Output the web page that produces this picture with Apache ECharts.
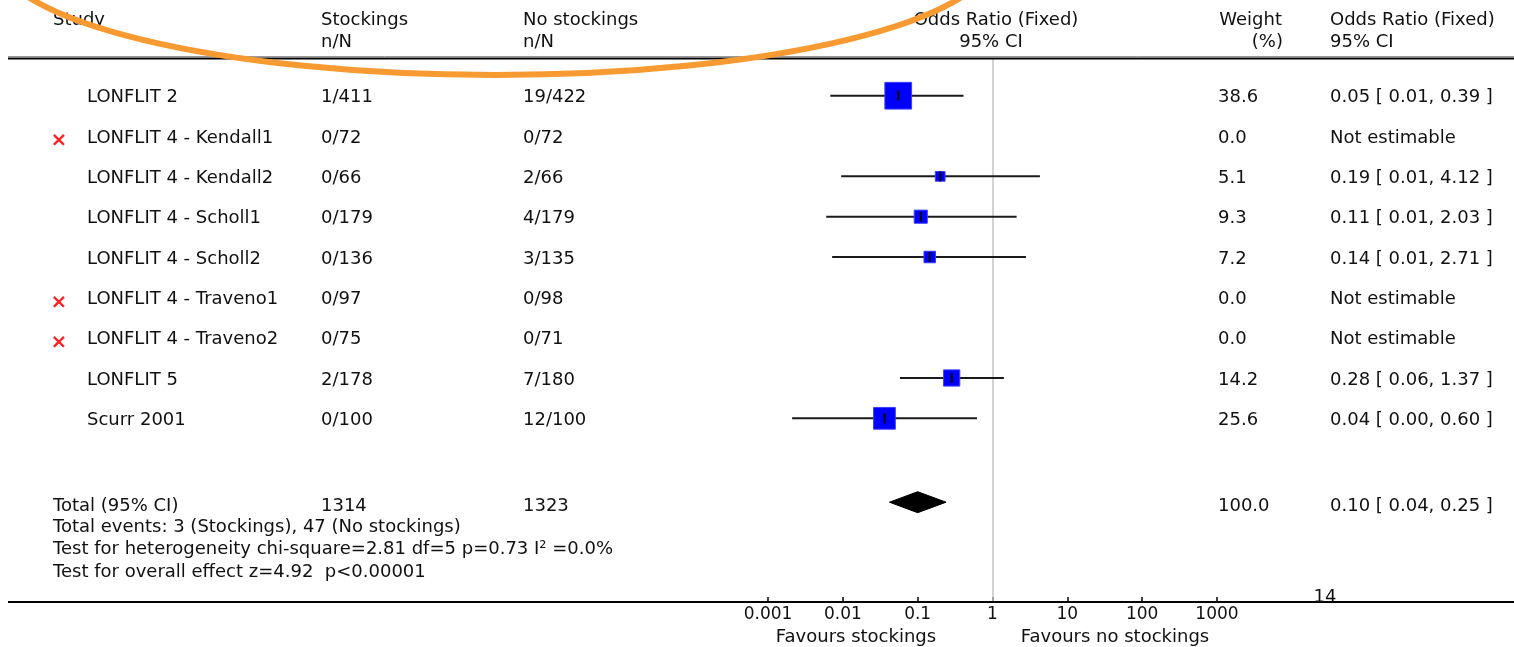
<!DOCTYPE html>
<html><head><meta charset="utf-8">
<script src="https://cdn.jsdelivr.net/npm/echarts@6/dist/echarts.min.js"></script>
<style>html,body{margin:0;padding:0;background:#fff}#c{width:1514px;height:647px}</style>
</head><body><div id="c"></div>
<script>
// ---- data ----
const studies = ['LONFLIT 2','LONFLIT 4 - Kendall1','LONFLIT 4 - Kendall2','LONFLIT 4 - Scholl1','LONFLIT 4 - Scholl2','LONFLIT 4 - Traveno1','LONFLIT 4 - Traveno2','LONFLIT 5','Scurr 2001'];
const stockingsNN = ['1/411','0/72','0/66','0/179','0/136','0/97','0/75','2/178','0/100'];
const noStockingsNN = ['19/422','0/72','2/66','4/179','3/135','0/98','0/71','7/180','12/100'];
const weights = [38.6, 0.0, 5.1, 9.3, 7.2, 0.0, 0.0, 14.2, 25.6];
const oddsRatio = [0.055, null, 0.20, 0.11, 0.145, null, null, 0.285, 0.036];
const ciLower = [0.0068, null, 0.0095, 0.006, 0.0072, null, null, 0.058, 0.0021];
const ciUpper = [0.41, null, 4.3, 2.1, 2.8, null, null, 1.42, 0.62];
const orLabels = ['0.05 [ 0.01, 0.39 ]','Not estimable','0.19 [ 0.01, 4.12 ]','0.11 [ 0.01, 2.03 ]','0.14 [ 0.01, 2.71 ]','Not estimable','Not estimable','0.28 [ 0.06, 1.37 ]','0.04 [ 0.00, 0.60 ]'];
const totalLabel = 'Total (95% CI)';
const totalStockings = '1314';
const totalNoStockings = '1323';
const totalWeight = 100.0;
const totalOrLabel = '0.10 [ 0.04, 0.25 ]';
const totalOR = [0.10, 0.042, 0.24]; // estimate, lower, upper
const footnotes = ['Total events: 3 (Stockings), 47 (No stockings)','Test for heterogeneity chi-square=2.81 df=5 p=0.73 I\u00B2 =0.0%','Test for overall effect z=4.92  p<0.00001'];
const axisTicks = [0.001, 0.01, 0.1, 1, 10, 100, 1000];
const tickLabels = ['0.001','0.01','0.1','1','10','100','1000'];
const favourLeft = 'Favours stockings';
const favourRight = 'Favours no stockings';
const headers = {study:'Study', stock:['Stockings','n/N'], noStock:['No stockings','n/N'], or:['Odds Ratio (Fixed)','95% CI'], weight:['Weight','(%)'], orCol:['Odds Ratio (Fixed)','95% CI']};
const pageNumber = '14';

// ---- chart ----
const FONT = '18px "DejaVu Sans"';
const TOTAL_ROW = 10.08;
const chart = echarts.init(document.getElementById('c'), null, {renderer:'canvas'});

const studyData = studies.map((s,i)=> oddsRatio[i]==null ? null : [i, oddsRatio[i], ciLower[i], ciUpper[i], weights[i]]).filter(Boolean);

function renderStudy(params, api){
  const i = api.value(0);
  const p = api.coord([api.value(1), i]);
  const pl = api.coord([api.value(2), i]);
  const ph = api.coord([api.value(3), i]);
  const s = 4.3*Math.sqrt(api.value(4));
  return {type:'group', children:[
    {type:'line', shape:{x1:pl[0], y1:p[1], x2:ph[0], y2:p[1]}, style:{stroke:'#1a1a1a', lineWidth:2}},
    {type:'rect', shape:{x:p[0]-s/2, y:p[1]-s/2, width:s, height:s}, style:{fill:'#0000ff', stroke:'#3c3cff', lineWidth:1}},
    {type:'line', shape:{x1:p[0], y1:p[1]-5, x2:p[0], y2:p[1]+5}, style:{stroke:'#000', lineWidth:2}}
  ]};
}
function renderDiamond(params, api){
  const r = api.value(0);
  const c = api.coord([api.value(1), r]);
  const l = api.coord([api.value(2), r]);
  const h = api.coord([api.value(3), r]);
  const hh = 10.5;
  return {type:'polygon', shape:{points:[[l[0],c[1]],[c[0],c[1]-hh],[h[0],c[1]],[c[0],c[1]+hh]]}, style:{fill:'#000', stroke:'#000', lineWidth:1}};
}

const option = {
  animation:false,
  backgroundColor:'#fff',
  grid:{left:768, right:297, top:58, bottom:45, containLabel:false},
  xAxis:{type:'log', logBase:10, min:axisTicks[0], max:axisTicks[axisTicks.length-1], splitNumber:6, position:'bottom',
    axisLine:{show:true, onZero:false, lineStyle:{color:'#000', width:2}},
    axisTick:{show:true, inside:true, length:5, lineStyle:{color:'#000', width:1.5}},
    axisLabel:{show:true, margin:4, color:'#111', fontFamily:'DejaVu Sans', fontSize:17,
      formatter:(v)=>{const k=axisTicks.findIndex(t=>Math.abs(Math.log10(t)-Math.log10(v))<1e-6);return k<0?'':tickLabels[k];}},
    splitLine:{show:false}},
  yAxis:{type:'value', inverse:true, min:-0.935, max:12.555, show:false},
  series:[
    {type:'custom', renderItem:renderStudy, data:studyData, encode:{x:[1,2,3], y:0}, z:3,
      markLine:{silent:true, symbol:'none', label:{show:false}, lineStyle:{color:'#c4c4c4', width:1.5, type:'solid'}, data:[{xAxis:1}], z:1}},
    {type:'custom', renderItem:renderDiamond, data:[[TOTAL_ROW, totalOR[0], totalOR[1], totalOR[2]]], encode:{x:[1,2,3], y:0}, z:3}
  ]
};
chart.setOption(option);

function txt(text, x, y, align, extra){
  return Object.assign({type:'text', z:10, silent:true, style:{text:text, x:x, y:y, font:FONT, fill:'#111', textAlign:align||'left', align:align||'left', textVerticalAlign:'middle', verticalAlign:'middle'}}, extra||{});
}
const rowY = i => chart.convertToPixel({yAxisIndex:0}, i) + 2;
const g = [];
// header
g.push(txt(headers.study, 53, 20));
g.push(txt(headers.stock[0], 321, 20)); g.push(txt(headers.stock[1], 321, 42));
g.push(txt(headers.noStock[0], 523, 20)); g.push(txt(headers.noStock[1], 523, 42));
g.push(txt(headers.or[0], 996, 20, 'center')); g.push(txt(headers.or[1], 991, 42, 'center'));
g.push(txt(headers.weight[0], 1282, 20, 'right')); g.push(txt(headers.weight[1], 1283, 42, 'right'));
g.push(txt(headers.orCol[0], 1330, 20)); g.push(txt(headers.orCol[1], 1330, 42));
// rules
g.push({type:'line', z:5, shape:{x1:8, y1:56.5, x2:1514, y2:56.5}, style:{stroke:'#999', lineWidth:1}});
g.push({type:'line', z:5, shape:{x1:8, y1:58.5, x2:1514, y2:58.5}, style:{stroke:'#000', lineWidth:2}});
g.push({type:'line', z:5, shape:{x1:8, y1:602, x2:1514, y2:602}, style:{stroke:'#000', lineWidth:2}});
// study rows
studies.forEach((s,i)=>{
  const y = rowY(i);
  g.push(txt(s, 87, y));
  g.push(txt(stockingsNN[i], 321, y));
  g.push(txt(noStockingsNN[i], 523, y));
  g.push(txt(weights[i].toFixed(1), 1218, y));
  g.push(txt(orLabels[i], 1330, y));
  if (oddsRatio[i]==null) g.push({type:'text', z:10, style:{text:'\u00D7', x:59, y:y+3, font:'bold 20px "DejaVu Sans"', fill:'#ff2020', textAlign:'center', align:'center', textVerticalAlign:'middle', verticalAlign:'middle'}});
});
// total row
const ty = rowY(TOTAL_ROW) + 2;
g.push(txt(totalLabel, 53, ty));
g.push(txt(totalStockings, 321, ty));
g.push(txt(totalNoStockings, 523, ty));
g.push(txt(totalWeight.toFixed(1), 1218, ty));
g.push(txt(totalOrLabel, 1330, ty));
footnotes.forEach((f,k)=> g.push(txt(f, 53, 527 + k*22.5)));
// favours
g.push(txt(favourLeft, 856, 637, 'center'));
g.push(txt(favourRight, 1115, 637, 'center'));
// page number
g.push(txt(pageNumber, 1325, 597, 'center', {}));
// orange ellipse annotation
g.push({type:'ellipse', z:20, silent:true, shape:{cx:495, cy:-45, rx:498, ry:120}, style:{fill:'none', stroke:'#F79A32', lineWidth:6}});
chart.setOption({graphic:{elements:g}});
</script>
</body></html>
